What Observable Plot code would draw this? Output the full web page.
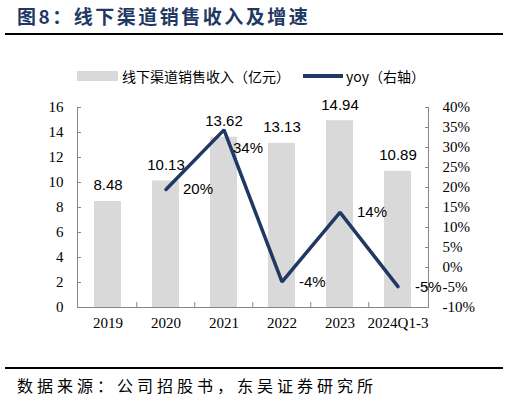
<!DOCTYPE html>
<html>
<head>
<meta charset="utf-8">
<script src="https://cdn.jsdelivr.net/npm/d3@7"></script>
<script src="https://cdn.jsdelivr.net/npm/@observablehq/plot@0.6"></script>
<style>
  body { margin: 0; background: #fff; }
  #wrap { position: relative; width: 509px; height: 402px; overflow: hidden; background: #fff; }
  .title { position: absolute; left: 17px; top: 2px; font-family: "Noto Sans CJK SC"; font-weight: bold; font-size: 19px; color: #1f3864; letter-spacing: 2.5px; white-space: nowrap; }
  .rule { position: absolute; left: 5px; width: 498px; height: 2px; background: #000; }
  .lg { position: absolute; font-family: "Noto Sans CJK SC"; font-size: 14px; color: #000; white-space: nowrap; line-height: 16px; }
  .source { position: absolute; left: 17px; top: 375px; font-family: "Noto Sans CJK SC"; font-size: 16px; letter-spacing: 4px; color: #000; white-space: nowrap; line-height: 20px; }
  #chart { position: absolute; left: 0; top: 90px; }
</style>
</head>
<body>
<div id="wrap">
  <div class="title">图8：线下渠道销售收入及增速</div>
  <div class="rule" style="top:33px"></div>
  <div style="position:absolute;left:77px;top:71px;width:41px;height:10px;background:#d9d9d9"></div>
  <div class="lg" style="left:122px;top:68px">线下渠道销售收入（亿元）</div>
  <div style="position:absolute;left:303px;top:74px;width:40px;height:3.5px;background:#203864"></div>
  <div class="lg" style="left:346px;top:68px">yoy（右轴）</div>
  <div id="chart"></div>
  <div class="rule" style="top:367px"></div>
  <div class="source">数据来源：公司招股书，东吴证券研究所</div>
</div>
<script>
const categories = ["2019", "2020", "2021", "2022", "2023", "2024Q1-3"];
const revenue = [8.48, 10.13, 13.62, 13.13, 14.94, 10.89];
const yoyCategories = ["2020", "2021", "2022", "2023", "2024Q1-3"];
const yoy = [19.5, 34.4, -3.6, 13.8, -4.8];
const leftTicks = [0, 2, 4, 6, 8, 10, 12, 14, 16];
const rightTicks = [-10, -5, 0, 5, 10, 15, 20, 25, 30, 35, 40];

const toLeft = d3.scaleLinear().domain([-10, 40]).range([0, 16]);
const bars = categories.map((c, i) => ({cat: c, value: revenue[i]}));
const lineData = yoyCategories.map((c, i) => ({cat: c, yoy: yoy[i], y: toLeft(yoy[i])}));
const peak = d3.greatest(lineData, d => d.yoy);

const axisColor = "#868686";
const labelStyle = {x: "cat", y: "y", text: d => Math.round(d.yoy) + "%", textAnchor: "start", fontSize: 15, fontFamily: "Liberation Sans", fill: "#000"};
const chart = Plot.plot({
  width: 509,
  height: 250,
  marginLeft: 77,
  marginRight: 81,
  marginTop: 17,
  marginBottom: 33,
  style: {background: "transparent", fontFamily: "Liberation Serif", fontSize: "15px", color: "#000", overflow: "visible"},
  x: {domain: categories, paddingInner: 0.54, paddingOuter: 0.27, label: null},
  y: {domain: [0, 16], label: null},
  marks: [
    Plot.barY(bars, {x: "cat", y: "value", fill: "#d9d9d9"}),
    Plot.frame({anchor: "left", stroke: axisColor}),
    Plot.frame({anchor: "right", stroke: axisColor}),
    Plot.ruleY([0], {stroke: axisColor}),
    Plot.ruleX(categories.slice(1), {x: d => d, y1: 0, y2: 0.4, dx: -29.25, stroke: axisColor}),
    Plot.axisY(leftTicks, {anchor: "left", tickSize: -4, tickPadding: 18, stroke: axisColor, fill: "#000", fontSize: 15, fontFamily: "Liberation Serif", label: null}),
    Plot.axisY(rightTicks.map(v => toLeft(v)), {anchor: "right", tickSize: -4, tickPadding: 18, stroke: axisColor, fill: "#000", fontSize: 15, fontFamily: "Liberation Serif", label: null,
      tickFormat: v => Math.round(toLeft.invert(v)) + "%"}),
    Plot.axisX({tickSize: 0, tickPadding: 10, fill: "#000", fontSize: 15, fontFamily: "Liberation Serif", label: null}),
    Plot.text(bars, {x: "cat", y: "value", text: d => d.value.toFixed(2), dy: -16, fontSize: 15, fontFamily: "Liberation Sans", fill: "#000"}),
    Plot.line(lineData, {x: "cat", y: "y", stroke: "#203864", strokeWidth: 3.5, strokeLinecap: "round", strokeLinejoin: "miter"}),
    Plot.text(lineData.filter(d => d !== peak), {...labelStyle, dx: 17}),
    Plot.text([peak], {...labelStyle, dx: 9, dy: 18})
  ]
});
document.getElementById("chart").appendChild(chart);
</script>
</body>
</html>
